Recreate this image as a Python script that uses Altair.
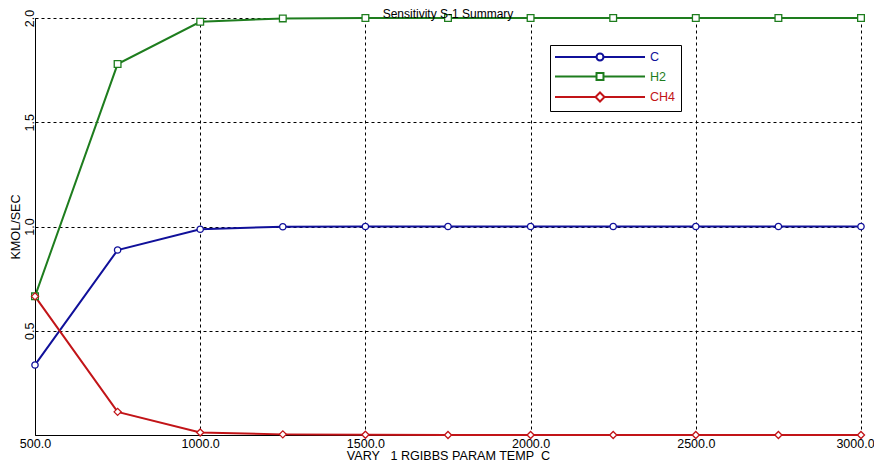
import altair as alt
import pandas as pd

temps = [500, 750, 1000, 1250, 1500, 1750, 2000, 2250, 2500, 2750, 3000]
c_vals = [0.336, 0.887, 0.987, 0.999, 1.0, 1.0, 1.0, 1.0, 1.0, 1.0, 1.0]
h2_vals = [0.665, 1.779, 1.982, 1.998, 2.0, 2.0, 2.0, 2.0, 2.0, 2.0, 2.0]
ch4_vals = [0.665, 0.111, 0.012, 0.003, 0.001, 0.0, 0.0, 0.0, 0.0, 0.0, 0.0]

series = ["C", "H2", "CH4"]
colors = ["#10109a", "#1e7d1e", "#c21418"]
shapes = ["circle", "square", "diamond"]
sizes = [40, 50, 60]

# legend symbols: a line segment with the marker in the middle (unit = 6px)
legend_paths = [
    "M-7.5,0L-0.58,0M0.58,0L7.5,0M0.58,0A0.58,0.58,0,1,1,-0.58,0A0.58,0.58,0,1,1,0.58,0Z",
    "M-7.5,0L-0.58,0M0.58,0L7.5,0M-0.58,-0.58L0.58,-0.58L0.58,0.58L-0.58,0.58Z",
    "M-7.5,0L-0.75,0M0.75,0L7.5,0M0,-0.75L0.75,0L0,0.75L-0.75,0Z",
]

rows = []
for name, vals in zip(series, [c_vals, h2_vals, ch4_vals]):
    for t, v in zip(temps, vals):
        rows.append({"temp": t, "value": v, "series": name})
df = pd.DataFrame(rows)

FONT = "Liberation Sans"
NB = "\u00a0"

x_enc = alt.X(
    "temp:Q",
    scale=alt.Scale(domain=[500, 3000], nice=False),
    axis=alt.Axis(
        title=f"VARY{NB*3}1 RGIBBS PARAM TEMP{NB*2}C",
        values=[500, 1000, 1500, 2000, 2500, 3000],
        format=".1f",
        grid=True,
        ticks=False,
        labelFlush=False,
        labelOffset={"expr": "datum.value == 3000 ? -6 : 0"},
        labelPadding=2,
        titlePadding=0,
    ),
)
y_enc = alt.Y(
    "value:Q",
    scale=alt.Scale(domain=[0, 2], nice=False),
    axis=alt.Axis(
        title="KMOL/SEC",
        values=[0, 0.5, 1.0, 1.5, 2.0],
        labelExpr="datum.value == 0 ? '' : format(datum.value, '.1f')",
        labelAngle=270,
        labelAlign="center",
        labelBaseline="alphabetic",
        labelFlush=False,
        labelPadding=2,
        ticks=False,
        grid=True,
        titlePadding=1,
    ),
)

base = alt.Chart(df)

lines = base.mark_line(strokeWidth=2).encode(
    x=x_enc,
    y=y_enc,
    color=alt.Color("series:N", scale=alt.Scale(domain=series, range=colors), legend=None),
    detail="series:N",
)

points = base.mark_point(filled=True, fill="white", strokeWidth=1.3, opacity=1).encode(
    x="temp:Q",
    y="value:Q",
    stroke=alt.Stroke("series:N", scale=alt.Scale(domain=series, range=colors), legend=None),
    shape=alt.Shape("series:N", scale=alt.Scale(domain=series, range=shapes), legend=None),
    size=alt.Size("series:N", scale=alt.Scale(domain=series, range=sizes), legend=None),
)

legend_layer = base.transform_filter("false").mark_point(
    filled=True, fill="white", strokeWidth=2, opacity=1
).encode(
    x="temp:Q",
    y="value:Q",
    stroke=alt.Stroke(
        "series:N",
        scale=alt.Scale(domain=series, range=colors),
        legend=alt.Legend(
            title=None,
            orient="none",
            legendX=515,
            legendY=27,
            strokeColor="black",
            fillColor="white",
            padding=5,
            symbolSize=144,
            symbolStrokeWidth=2,
            symbolFillColor="white",
            symbolOffset=38,
            labelFontSize=12.5,
            labelFont=FONT,
            labelOffset=43,
            rowPadding=3.5,
            labelColor={"expr": "datum.value == 'C' ? '#10109a' : datum.value == 'H2' ? '#1e7d1e' : '#c21418'"},
        ),
    ),
    shape=alt.Shape(
        "series:N",
        scale=alt.Scale(domain=series, range=legend_paths),
        legend=alt.Legend(title=None, orient="none", legendX=515, legendY=27),
    ),
)

chart = (
    alt.layer(lines, points, legend_layer)
    .resolve_scale(stroke="independent", shape="independent", size="independent")
    .properties(
        width=826,
        height=417,
        title=alt.TitleParams(
            "Sensitivity S-1 Summary",
            frame="group",
            anchor="middle",
            offset=-3,
            dy=18,
            baseline="alphabetic",
            fontSize=12,
            font=FONT,
            fontWeight="normal",
            color="black",
        ),
        autosize=alt.AutoSizeParams(type="none"),
        padding={"left": 27, "top": 10, "right": 13, "bottom": 27},
    )
    .configure_view(stroke=None)
    .configure_axis(
        domainColor="black",
        domainWidth=1,
        gridColor="black",
        gridDash=[3, 3],
        gridWidth=1,
        gridOpacity=1,
        labelFont=FONT,
        labelFontSize=12.5,
        labelColor="black",
        titleFont=FONT,
        titleFontSize=12.6,
        titleFontWeight="normal",
        titleColor="black",
    )
)

chart.save("out.html", embed_options={"renderer": "svg", "actions": False})
